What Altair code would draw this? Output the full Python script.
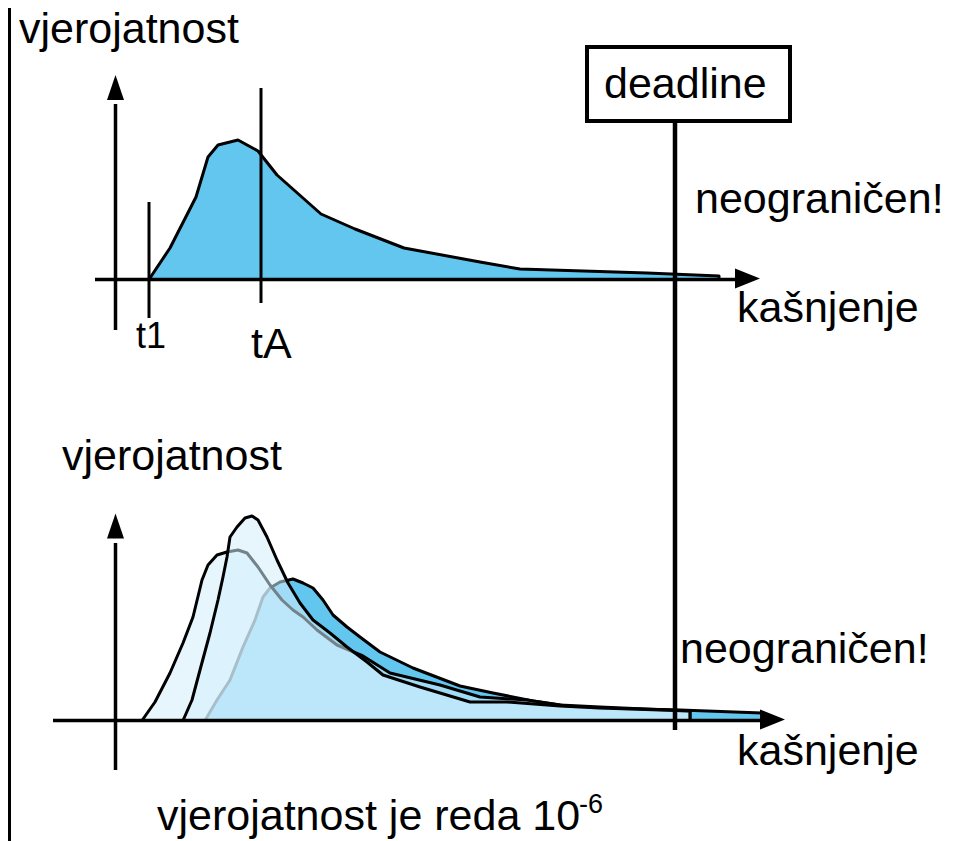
import altair as alt
import pandas as pd

FONT = "Liberation Sans"

# ---- top panel: delay distribution of one task (x: delay, y: probability, page units) ----
top_x = [149, 170, 196, 208, 218, 238, 258, 277, 321, 355, 404, 480, 520, 647, 719]
top_y = [279.5, 248, 197, 157, 145, 140, 151, 175, 214, 229, 248, 262, 269, 273, 276]
top_base = 279.5

# ---- bottom panel: three overlapping distributions ----
c_x = [205, 217, 230, 243, 255, 263, 270, 280, 293, 303, 313, 323, 333, 347, 360, 380, 413, 460, 493, 533, 567, 600, 680, 762]
c_y = [720.5, 700, 680, 647, 620, 597, 588, 582, 579, 583, 588, 600, 615, 627, 637, 652, 668, 686, 693, 701, 706, 708, 710, 713]

a_x = [142, 155, 170, 183, 193, 202, 208, 217, 227, 238, 247, 258, 270, 282, 293, 303, 317, 337, 363, 390, 440, 480, 527, 560, 600, 690]
a_y = [720.5, 702, 673, 643, 617, 580, 565, 555, 552, 550, 553, 567, 585, 600, 610, 617, 630, 645, 656, 673, 685, 697, 700, 705, 707, 711]

b_x = [183, 192, 200, 210, 218, 223, 227, 230, 237, 245, 252, 258, 267, 277, 288, 300, 313, 330, 347, 367, 383, 420, 470, 507, 560, 600, 690]
b_y = [720.5, 700, 670, 633, 600, 577, 557, 537, 527, 518, 516, 520, 537, 560, 583, 603, 620, 633, 647, 662, 675, 687, 702, 702, 706, 708, 711]
bottom_base = 720.5

# ---- axis lines / markers ----
seg_x = [9.5, 115.5, 95, 149, 261, 675, 115.5, 53]
seg_x2 = [9.5, 115.5, 740, 149, 261, 675, 115.5, 763]
seg_y = [8, 104, 279.5, 202, 88, 121, 543, 720.5]
seg_y2 = [841, 330, 279.5, 318, 303, 730, 770, 720.5]
seg_w = [3, 3.5, 3.5, 3, 3, 4.5, 3.5, 3.5]

UP = "M0,-1L0.68,1L-0.68,1Z"
RIGHT = "M1,0L-1,-0.8L-1,0.8Z"
head_x = [115.5, 747.5, 115.5, 772.5]
head_y = [87.5, 278.5, 526, 719.5]
head_shape = [UP, RIGHT, UP, RIGHT]

# ---- deadline box ----
box_x, box_x2, box_y, box_y2 = [587], [790], [47], [121]

# ---- texts ----
txt = ["vjerojatnost", "deadline", "neograničen!", "kašnjenje", "t1", "tA",
       "vjerojatnost", "neograničen!", "kašnjenje", "vjerojatnost je reda 10", "-6"]
txt_x = [19, 604, 695, 737, 136, 251, 62, 680, 737, 157, 579]
txt_y = [43, 98, 213, 322, 348, 358, 470, 663, 765, 830, 813]
txt_size = [43, 43, 43, 43, 36, 43, 43, 43, 43, 43, 27]

X = alt.Scale(domain=[8, 954])
Y = alt.Scale(domain=[841, 8])


def area_layer(xs, ys, base, fill, opacity):
    df = pd.DataFrame({"x": xs, "y": ys, "b": [base] * len(xs)})
    return alt.Chart(df).mark_area(
        fill=fill, fillOpacity=opacity, stroke="black", strokeWidth=3,
        strokeJoin="round", interpolate="linear"
    ).encode(
        x=alt.X("x:Q", scale=X, axis=None),
        y=alt.Y("y:Q", scale=Y, axis=None),
        y2="b:Q",
    )


top_area = area_layer(top_x, top_y, top_base, "#62c6ef", 1)
c_area = area_layer(c_x, c_y, bottom_base, "#62c6ef", 1)
a_area = area_layer(a_x, a_y, bottom_base, "#d3eefb", 0.55)
b_area = area_layer(b_x, b_y, bottom_base, "#d3eefb", 0.55)

segs = pd.DataFrame({"x": seg_x, "x2": seg_x2, "y": seg_y, "y2": seg_y2, "w": seg_w})
rules = alt.Chart(segs).mark_rule(color="black").encode(
    x=alt.X("x:Q", scale=X, axis=None),
    x2="x2:Q",
    y=alt.Y("y:Q", scale=Y, axis=None),
    y2="y2:Q",
    strokeWidth=alt.StrokeWidth("w:Q", scale=None),
)

heads = pd.DataFrame({"x": head_x, "y": head_y, "s": head_shape})
arrows = alt.Chart(heads).mark_point(filled=True, color="black", opacity=1, size=625, strokeWidth=0).encode(
    x=alt.X("x:Q", scale=X, axis=None),
    y=alt.Y("y:Q", scale=Y, axis=None),
    shape=alt.Shape("s:N", scale=None),
)

box_df = pd.DataFrame({"x": box_x, "x2": box_x2, "y": box_y, "y2": box_y2})
box = alt.Chart(box_df).mark_rect(fill="white", stroke="black", strokeWidth=4).encode(
    x=alt.X("x:Q", scale=X, axis=None),
    x2="x2:Q",
    y=alt.Y("y:Q", scale=Y, axis=None),
    y2="y2:Q",
)

tdf = pd.DataFrame({"t": txt, "x": txt_x, "y": txt_y, "fs": txt_size})
texts = alt.Chart(tdf).mark_text(
    font=FONT, align="left", baseline="alphabetic", color="black"
).encode(
    x=alt.X("x:Q", scale=X, axis=None),
    y=alt.Y("y:Q", scale=Y, axis=None),
    text="t:N",
    size=alt.Size("fs:Q", scale=None),
)

chart = alt.layer(
    top_area, c_area, a_area, b_area, rules, arrows, box, texts
).properties(
    width=946, height=833, padding=0,
    autosize=alt.AutoSizeParams(type="none"),
).configure_view(strokeWidth=0)

chart.save("out.html", embed_options={"renderer": "svg", "actions": False})
